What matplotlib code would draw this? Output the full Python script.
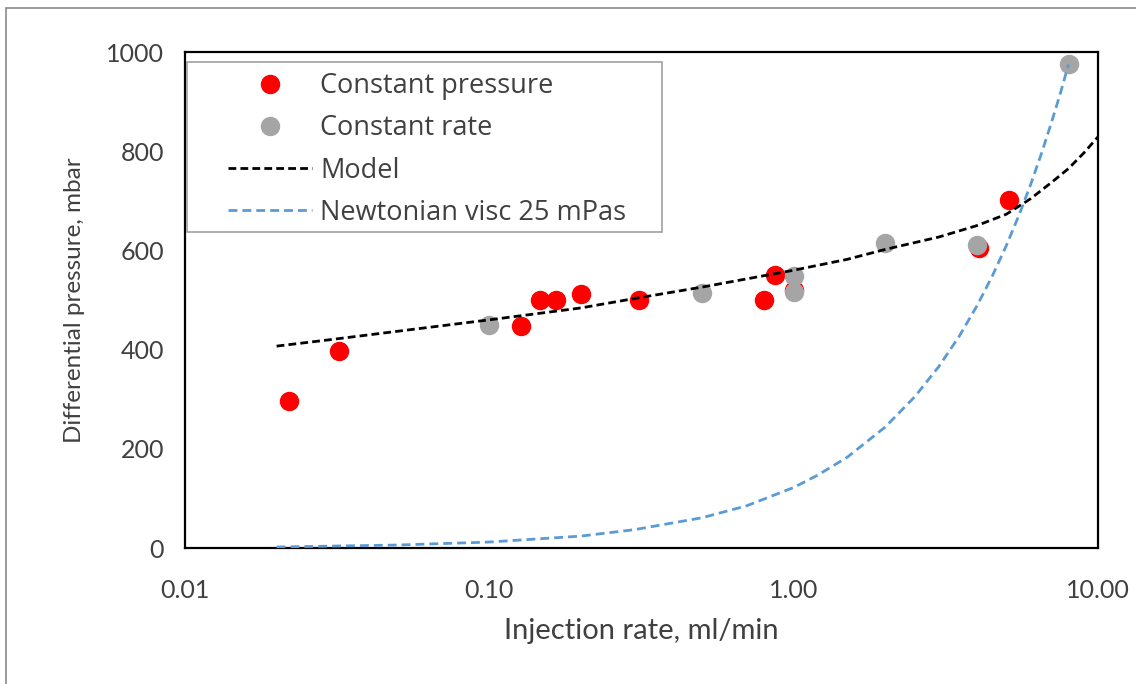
import matplotlib
matplotlib.use("Agg")
import matplotlib.pyplot as plt
from matplotlib.patches import Rectangle

# measured data
cp_rate = [0.022, 0.032, 0.127, 0.147, 0.165, 0.2, 0.31, 0.8, 0.87, 1.0, 4.05, 5.1]
cp_dp = [297, 397, 448, 500, 500, 512, 500, 500, 550, 520, 605, 702]

cr_rate = [0.1, 0.5, 1.0, 1.0, 2.0, 4.0, 8.0]
cr_dp = [450, 515, 548, 516, 614, 611, 975]

model_rate = [0.02, 0.03, 0.05, 0.1, 0.2, 0.3, 0.5, 1.0, 1.5, 2.0, 3.0, 4.0, 5.0, 6.0, 7.0, 8.0, 9.0, 10.0]
model_dp = [407, 420, 437, 460, 484, 503, 526, 560, 582, 602, 627, 650, 673, 704, 736, 765, 797, 829]

newt_rate = [0.02, 0.05, 0.1, 0.2, 0.3, 0.5, 0.7, 1.0, 1.2, 1.5, 2.0, 2.5, 3.0, 3.5, 4.0,
             4.5, 5.0, 5.5, 6.0, 6.5, 7.0, 7.5, 8.0]
newt_dp = [2, 6, 12, 24, 37, 61, 85, 122, 147, 183, 244, 305, 366, 427, 488,
           549, 610, 671, 732, 793, 854, 914, 975]

x_ticks = [0.01, 0.1, 1, 10]
x_ticklabels = ["0.01", "0.10", "1.00", "10.00"]
y_ticks = [0, 200, 400, 600, 800, 1000]

plt.rcParams['font.family'] = ['Lato', 'DejaVu Sans']
text_color = "#404040"

fig = plt.figure(figsize=(11.36, 6.84), dpi=100)
ax = fig.add_axes([185 / 1136, 136 / 684, 913 / 1136, 496 / 684])

# outer frame of the picture
fig.patches.append(Rectangle((6 / 1136, -0.05), 1.1, (684 - 8) / 684 + 0.05,
                             transform=fig.transFigure, fill=False,
                             edgecolor="#8a8a8a", linewidth=1.2))

ax.plot(cp_rate, cp_dp, "o", color="#ff0000", markersize=13, label="Constant pressure", zorder=3)
ax.plot(cr_rate, cr_dp, "o", color="#a5a5a5", markersize=13, label="Constant rate", zorder=4)
ax.plot(model_rate, model_dp, color="black", linewidth=2, dashes=[2.8, 1.5], label="Model", zorder=5)
ax.plot(newt_rate, newt_dp, color="#5b9bd5", linewidth=2, dashes=[3.2, 1.8],
        label="Newtonian visc 25 mPas", zorder=5)

ax.set_xscale("log")
ax.set_xlim(0.01, 10)
ax.set_ylim(0, 1000)
ax.set_xticks(x_ticks)
ax.set_xticklabels(x_ticklabels)
ax.minorticks_off()
ax.set_yticks(y_ticks)
ax.tick_params(length=0, labelsize=18, labelcolor=text_color)
ax.tick_params(axis="x", pad=22)
ax.tick_params(axis="y", pad=15)

for s in ax.spines.values():
    s.set_color("black")
    s.set_linewidth(1.6)

ax.set_xlabel("Injection rate, ml/min", fontsize=21, color=text_color, labelpad=12)
ax.set_ylabel("Differential pressure, mbar", fontsize=17.5, color=text_color, labelpad=15)

# legend box drawn separately so the inner spacing can follow the original
ax.add_patch(Rectangle((0.0022, 0.637), 0.5203, 0.343, transform=ax.transAxes,
                       facecolor="white", edgecolor="#a0a0a0", linewidth=1.2, zorder=6))
leg = ax.legend(loc="upper left", bbox_to_anchor=(0.047, 0.959), frameon=False,
                handlelength=3.1, handletextpad=0.3, labelspacing=0.52,
                borderpad=0, borderaxespad=0, numpoints=1,
                prop={"family": ["Open Sans", "DejaVu Sans"], "size": 19.5})
leg.set_zorder(7)
for t in leg.get_texts():
    t.set_color(text_color)

fig.savefig("out.png", dpi=100)
